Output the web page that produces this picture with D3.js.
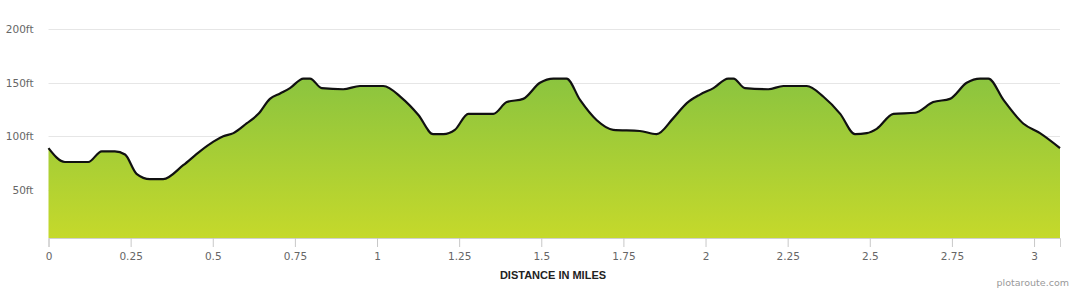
<!DOCTYPE html>
<html>
<head>
<meta charset="utf-8">
<script src="https://cdn.jsdelivr.net/npm/d3@7"></script>
<style>
  body { margin: 0; background: #fff; }
  svg { display: block; }
</style>
</head>
<body>
<script>
// distance along route (miles) and elevation (ft)
var miles = [0, 0.050, 0.121, 0.162, 0.202, 0.233, 0.268, 0.309, 0.349, 0.410, 0.461, 0.502,
  0.532, 0.563, 0.603, 0.639, 0.674, 0.705, 0.735, 0.776, 0.796, 0.832, 0.897, 0.948,
  1.019, 1.075, 1.126, 1.171, 1.202, 1.237, 1.278, 1.354, 1.395, 1.445, 1.496, 1.537,
  1.577, 1.618, 1.669, 1.719, 1.800, 1.851, 1.902, 1.943, 1.983, 2.024, 2.069, 2.085,
  2.120, 2.191, 2.237, 2.308, 2.359, 2.410, 2.455, 2.491, 2.521, 2.572, 2.638, 2.693,
  2.744, 2.795, 2.836, 2.861, 2.907, 2.967, 3.018, 3.079];
var elevation = [89, 76, 76, 86, 86, 83, 65, 60, 60, 73, 86, 95,
  100, 103, 112, 121, 135, 140, 145, 154, 154, 145, 144, 147,
  147, 136, 120, 102, 102, 106, 121, 121, 132, 135, 150, 154,
  154, 134, 115, 106, 105, 102, 117, 131, 139, 145, 154, 154,
  145, 144, 147, 147, 137, 121, 102, 103, 107, 121, 122, 132,
  135, 150, 154, 154, 134, 112, 103, 89];
var xTicks = [0, 0.25, 0.5, 0.75, 1, 1.25, 1.5, 1.75, 2, 2.25, 2.5, 2.75, 3];
var yTicks = [50, 100, 150, 200];

var chartW = 1080, chartH = 290;
var plotLeft = 48.5, plotRight = 1060, plotTop = 29.3, plotBottom = 238;

var svg = d3.select("body")
  .append("svg")
  .attr("width", chartW)
  .attr("height", chartH);

var x = d3.scaleLinear().domain([0, 3.079]).range([plotLeft, plotRight]);
var y = d3.scaleLinear().domain([5, 200]).range([plotBottom, plotTop]);

var data = miles.map(function(m, i){ return {m: m, e: elevation[i]}; });

// gradient fill
var grad = svg.append("defs").append("linearGradient")
  .attr("id", "fillGrad")
  .attr("gradientUnits", "userSpaceOnUse")
  .attr("x1", 0).attr("x2", 0)
  .attr("y1", y(154)).attr("y2", plotBottom);
grad.append("stop").attr("offset", "0%").attr("stop-color", "#8bc43f");
grad.append("stop").attr("offset", "100%").attr("stop-color", "#c5d92b");

// grid lines
svg.append("g")
  .selectAll("line")
  .data(yTicks)
  .enter().append("line")
  .attr("x1", plotLeft).attr("x2", plotRight)
  .attr("y1", function(d){ return Math.round(y(d)) + 0.5; })
  .attr("y2", function(d){ return Math.round(y(d)) + 0.5; })
  .style("stroke", "#e6e6e6")
  .style("stroke-width", 1);

var area = d3.area()
  .x(function(d){ return x(d.m); })
  .y0(plotBottom)
  .y1(function(d){ return y(d.e); })
  .curve(d3.curveMonotoneX);

var line = d3.line()
  .x(function(d){ return x(d.m); })
  .y(function(d){ return y(d.e); })
  .curve(d3.curveMonotoneX);

svg.append("path")
  .datum(data)
  .attr("d", area)
  .style("fill", "url(#fillGrad)");

svg.append("path")
  .datum(data)
  .attr("d", line)
  .style("fill", "none")
  .style("stroke", "#111")
  .style("stroke-width", 2.2)
  .style("stroke-linejoin", "round");

// x axis
var xAxis = d3.axisBottom(x)
  .tickValues(xTicks)
  .tickSize(9)
  .tickPadding(6)
  .tickFormat(function(d){ return String(d); });

var gx = svg.append("g")
  .attr("transform", "translate(0," + plotBottom + ")")
  .call(xAxis);
gx.select(".domain").style("stroke", "#d0d0d0");
gx.selectAll(".tick line").style("stroke", "#c8c8c8");
gx.selectAll(".tick text")
  .style("font-family", "DejaVu Sans, sans-serif")
  .style("font-size", "10.5px")
  .style("fill", "#666");

// y axis labels
var yAxis = d3.axisLeft(y)
  .tickValues(yTicks)
  .tickSize(0)
  .tickPadding(15)
  .tickFormat(function(d){ return d + "ft"; });

var gy = svg.append("g")
  .attr("transform", "translate(" + plotLeft + ",0)")
  .call(yAxis);
gy.select(".domain").remove();
gy.selectAll(".tick text")
  .style("font-family", "DejaVu Sans, sans-serif")
  .style("font-size", "10.5px")
  .style("fill", "#666");

// axis title
svg.append("text")
  .attr("x", 553)
  .attr("y", 279)
  .attr("text-anchor", "middle")
  .style("font-family", "Liberation Sans, Arial, sans-serif")
  .style("font-weight", "bold")
  .style("font-size", "11px")
  .style("fill", "#222")
  .text("DISTANCE IN MILES");

// credit
svg.append("text")
  .attr("x", 1069)
  .attr("y", 286)
  .attr("text-anchor", "end")
  .style("font-family", "DejaVu Sans, sans-serif")
  .style("font-size", "9.5px")
  .style("fill", "#999")
  .text("plotaroute.com");
</script>
</body>
</html>
